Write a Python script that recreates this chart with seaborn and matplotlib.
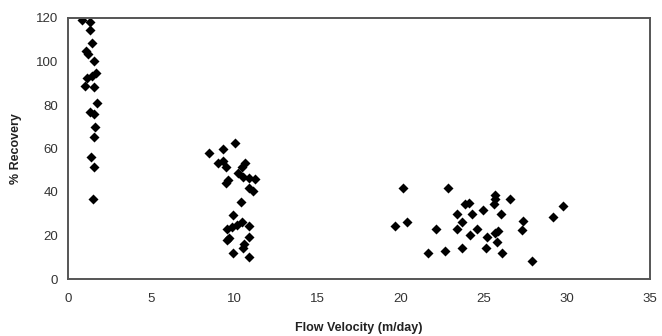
import matplotlib
matplotlib.use("Agg")
import matplotlib.pyplot as plt
import seaborn as sns
import pandas as pd

x_vals = [0.82, 1.32, 1.32, 1.46, 1.06, 1.22, 1.58, 1.68, 1.42, 1.12, 1.02, 1.58, 1.76, 1.32, 1.58, 1.62, 1.56, 1.36, 1.58, 1.49,
          10.04, 8.48, 9.34, 9.0, 9.34, 9.48, 10.64, 10.44, 10.24, 10.54, 10.88, 11.24, 9.64, 9.5, 10.9, 11.14, 10.4, 9.94, 10.44,
          10.14, 10.9, 9.54, 9.84, 9.7, 9.54, 10.9, 10.6, 10.54, 9.9, 10.88,
          20.16, 22.87, 25.68, 25.68, 26.58, 25.62, 23.87, 24.13, 23.37, 24.27, 24.94, 26.04, 27.34, 29.15, 19.66, 20.4, 23.71,
          22.11, 23.37, 24.61, 27.28, 25.88, 25.68, 24.17, 25.18, 25.81, 23.67, 25.13, 22.67, 21.63, 26.12, 27.92, 29.77]
y_vals = [119.0, 118.3, 114.5, 108.7, 105.0, 103.4, 100.4, 94.9, 93.3, 92.3, 88.7, 88.1, 81.0, 76.9, 75.9, 70.0, 65.1, 56.2, 51.6, 36.6,
          62.7, 57.8, 59.6, 53.5, 54.4, 51.6, 53.5, 51.6, 48.9, 47.0, 46.3, 45.8, 45.5, 44.0, 41.7, 40.5, 35.5, 29.4, 26.3,
          24.8, 24.4, 22.8, 23.8, 18.7, 17.9, 19.2, 16.1, 14.1, 11.8, 10.0,
          41.7, 41.7, 38.6, 36.6, 36.8, 34.3, 34.3, 34.8, 29.7, 29.7, 31.7, 29.7, 26.8, 28.6, 24.5, 26.1, 26.1,
          23.0, 23.0, 23.0, 22.5, 22.2, 21.0, 20.2, 19.5, 17.2, 14.1, 14.1, 13.0, 11.8, 12.1, 8.4, 33.6]
x_ticks = [0, 5, 10, 15, 20, 25, 30, 35]
y_ticks = [0, 20, 40, 60, 80, 100, 120]
x_label = "Flow Velocity (m/day)"
y_label = "% Recovery"

df = pd.DataFrame({"x": x_vals, "y": y_vals})

sns.set_style("white")
plt.rcParams['font.family'] = ['Liberation Sans', 'DejaVu Sans']

fig = plt.figure(figsize=(6.62, 3.36), dpi=100)
ax = fig.add_axes([68/662, 1-279/336, (650-68)/662, (279-18)/336])
sns.scatterplot(data=df, x="x", y="y", marker="D", color="black", s=26, edgecolor="black", linewidth=0, ax=ax)
ax.set_xlim(0, 35)
ax.set_ylim(0, 120)
ax.set_xticks(x_ticks)
ax.set_yticks(y_ticks)
ax.tick_params(axis="both", labelsize=9.5, colors="#555555", length=3, width=1, direction="out")
ax.tick_params(axis="both", labelcolor="#333333")
ax.tick_params(axis="x", pad=7)
ax.tick_params(axis="y", pad=4)
for s in ax.spines.values():
    s.set_color("#555555")
    s.set_linewidth(1.4)
ax.set_xlabel(x_label, fontsize=9, fontweight="bold", color="#222222", labelpad=12)
ax.set_ylabel(y_label, fontsize=9, fontweight="bold", color="#222222", labelpad=10)
fig.savefig("out.png", dpi=100)
